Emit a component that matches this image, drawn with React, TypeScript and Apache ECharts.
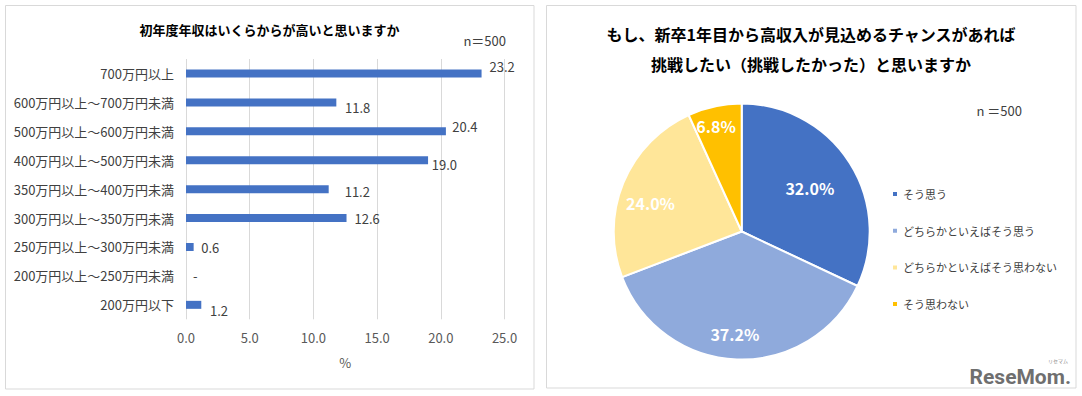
import React, { useEffect, useRef } from "react";
import * as echarts from "echarts";

const barTitle = "初年度年収はいくらからが高いと思いますか";
const barCategories = [
  "700万円以上",
  "600万円以上～700万円未満",
  "500万円以上～600万円未満",
  "400万円以上～500万円未満",
  "350万円以上～400万円未満",
  "300万円以上～350万円未満",
  "250万円以上～300万円未満",
  "200万円以上～250万円未満",
  "200万円以下",
];
const barValues = [23.2, 11.8, 20.4, 19.0, 11.2, 12.6, 0.6, 0, 1.2];
const xAxisMin = 0;
const xAxisMax = 25;
const xAxisStep = 5;
const xAxisName = "%";
const sampleLabelLeft = "n＝500";

const pieTitleLines = [
  "もし、新卒1年目から高収入が見込めるチャンスがあれば",
  "挑戦したい（挑戦したかった）と思いますか",
];
const pieNames = [
  "そう思う",
  "どちらかといえばそう思う",
  "どちらかといえばそう思わない",
  "そう思わない",
];
const pieValues = [32.0, 37.2, 24.0, 6.8];
const sampleLabelRight = "n ＝500";

// styling only (label nudges, colours)
const barLabelNudge = [
  [8, -6.6],
  [8.7, 5.3],
  [6.4, -5],
  [3.7, 4],
  [16, 2.7],
  [8, 0],
  [7.6, 1],
  [7, 0],
  [8.7, 6],
];
const pieLabelNudge = [
  [11.6, -7.2],
  [-4.3, 35.2],
  [-29.2, -3.2],
  [-11.4, -39.7],
];
const pieColors = ["#4472C4", "#8FAADC", "#FFE699", "#FFC000"];
const FONT = '"Noto Sans CJK JP", "Noto Sans", sans-serif';

export default function App() {
  const ref = useRef<HTMLDivElement>(null);
  useEffect(() => {
    if (!ref.current) return;
    const chart = echarts.init(ref.current, null, { renderer: "svg" });
    const textStyle = (extra: any) => ({
      fontFamily: FONT,
      ...extra,
    });
    const option: any = {
      animation: false,
      backgroundColor: "#ffffff",
      textStyle: { fontFamily: FONT },
      grid: { left: 186, top: 59, width: 318.5, height: 260.3, containLabel: false },
      xAxis: {
        type: "value",
        min: xAxisMin,
        max: xAxisMax,
        interval: xAxisStep,
        axisLine: { show: false },
        axisTick: { show: false },
        splitLine: { show: true, lineStyle: { color: "#D9D9D9", width: 1 } },
        axisLabel: {
          color: "#595959",
          fontSize: 13,
          fontFamily: FONT,
          margin: 12,
          formatter: (v: number) => v.toFixed(1),
        },
        name: xAxisName,
        nameLocation: "middle",
        nameGap: 37,
        nameTextStyle: { color: "#595959", fontSize: 13, fontFamily: FONT },
      },
      yAxis: {
        type: "category",
        data: barCategories,
        inverse: true,
        axisLine: { show: false },
        axisTick: { show: false },
        splitLine: { show: false },
        axisLabel: { color: "#404040", fontSize: 13, fontFamily: FONT, margin: 12 },
      },
      legend: {
        orient: "vertical",
        left: 891,
        top: 187,
        padding: 0,
        itemWidth: 6,
        itemHeight: 6,
        itemGap: 22.7,
        itemTextGap: 4,
        icon: "rect",
        data: pieNames,
        textStyle: { color: "#404040", fontSize: 11, lineHeight: 14, fontFamily: FONT },
      },
      series: [
        {
          type: "bar",
          data: barValues,
          barWidth: 8,
          itemStyle: { color: "#4472C4" },
          label: {
            show: true,
            position: "right",
            distance: 0,
            color: "#404040",
            fontSize: 13,
            fontFamily: FONT,
            formatter: (p: any) => (p.value === 0 ? "-" : Number(p.value).toFixed(1)),
          },
          labelLayout: (p: any) => ({
            dx: barLabelNudge[p.dataIndex][0],
            dy: barLabelNudge[p.dataIndex][1],
          }),
        },
        {
          type: "pie",
          center: [741.7, 231.5],
          radius: 128,
          startAngle: 90,
          clockwise: true,
          data: pieNames.map((n, i) => ({
            name: n,
            value: pieValues[i],
            itemStyle: { color: pieColors[i] },
          })),
          itemStyle: { borderColor: "#ffffff", borderWidth: 2 },
          label: {
            show: true,
            position: "inside",
            color: "#ffffff",
            fontSize: 16,
            fontWeight: "bold",
            fontFamily: FONT,
            formatter: (p: any) => Number(p.value).toFixed(1) + "%",
          },
          labelLine: { show: false },
          labelLayout: (p: any) => ({
            dx: pieLabelNudge[p.dataIndex][0],
            dy: pieLabelNudge[p.dataIndex][1],
          }),
          emphasis: { disabled: true },
        },
      ],
      graphic: [
        {
          type: "rect",
          z: -10,
          shape: { x: 5.5, y: 5.5, width: 528.5, height: 383.5 },
          style: { fill: "#ffffff", stroke: "#D9D9D9", lineWidth: 1 },
        },
        {
          type: "rect",
          z: -10,
          shape: { x: 546.5, y: 5.5, width: 529.5, height: 382.5 },
          style: { fill: "#ffffff", stroke: "#D9D9D9", lineWidth: 1 },
        },
        {
          type: "text",
          x: 269.5,
          y: 29,
          style: textStyle({
            text: barTitle,
            fill: "#000000",
            fontSize: 13,
            fontWeight: "bold",
            align: "center",
            verticalAlign: "middle",
            textAlign: "center",
            textVerticalAlign: "middle",
          }),
        },
        {
          type: "text",
          x: 506,
          y: 40,
          style: textStyle({
            text: sampleLabelLeft,
            fill: "#404040",
            fontSize: 13,
            align: "right",
            verticalAlign: "middle",
            textAlign: "right",
            textVerticalAlign: "middle",
          }),
        },
        {
          type: "text",
          x: 811,
          y: 34,
          style: textStyle({
            text: pieTitleLines[0],
            fill: "#000000",
            fontSize: 16,
            fontWeight: "bold",
            align: "center",
            verticalAlign: "middle",
            textAlign: "center",
            textVerticalAlign: "middle",
          }),
        },
        {
          type: "text",
          x: 811,
          y: 64,
          style: textStyle({
            text: pieTitleLines[1],
            fill: "#000000",
            fontSize: 16,
            fontWeight: "bold",
            align: "center",
            verticalAlign: "middle",
            textAlign: "center",
            textVerticalAlign: "middle",
          }),
        },
        {
          type: "text",
          x: 1022,
          y: 110,
          style: textStyle({
            text: sampleLabelRight,
            fill: "#404040",
            fontSize: 13,
            align: "right",
            verticalAlign: "middle",
            textAlign: "right",
            textVerticalAlign: "middle",
          }),
        },
        {
          type: "text",
          x: 1071,
          y: 377,
          style: {
            text: "ReseMom.",
            fill: "#6f6f6f",
            fontSize: 21,
            fontWeight: "bold",
            fontFamily: "Roboto, sans-serif",
            align: "right",
            verticalAlign: "middle",
            textAlign: "right",
            textVerticalAlign: "middle",
          },
        },
        {
          type: "text",
          x: 1058,
          y: 360,
          style: textStyle({
            text: "リセマム",
            fill: "#8a8a8a",
            fontSize: 5,
            align: "center",
            verticalAlign: "middle",
            textAlign: "center",
            textVerticalAlign: "middle",
          }),
        },
      ],
    };
    chart.setOption(option);
    return () => chart.dispose();
  }, []);
  return (
    <div
      ref={ref}
      style={{ position: "fixed", left: 0, top: 0, width: 1082, height: 396, background: "#fff" }}
    />
  );
}
